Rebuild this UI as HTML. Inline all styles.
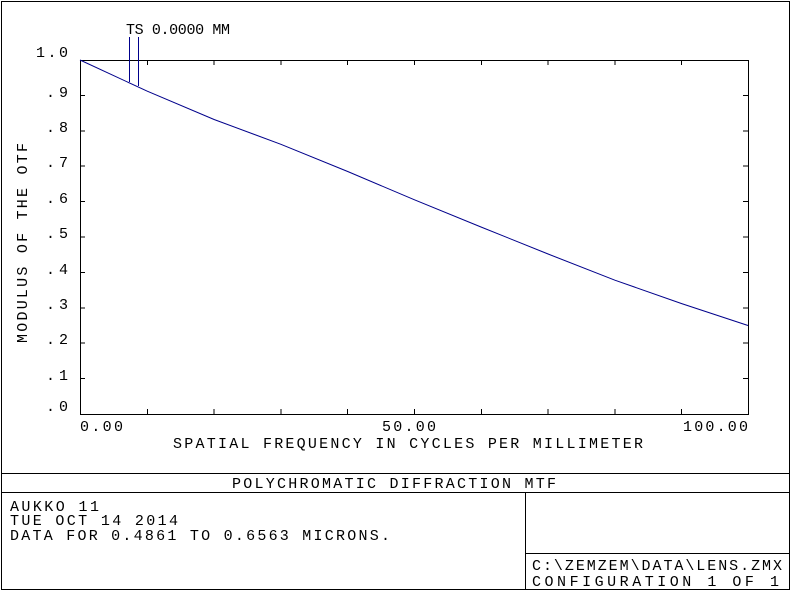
<!DOCTYPE html>
<html><head><style>body{margin:0;background:#fff}svg{display:block}text{font-family:"Liberation Mono",monospace;font-size:15px;fill:#000}</style></head><body>
<svg width="792" height="592" xmlns="http://www.w3.org/2000/svg">
<g stroke="#000" stroke-width="1" fill="none" shape-rendering="crispEdges">
<rect x="1.5" y="1.5" width="788" height="588"/>
<line x1="1" y1="473.5" x2="790" y2="473.5"/>
<line x1="1" y1="492.5" x2="790" y2="492.5"/>
<line x1="525.5" y1="492" x2="525.5" y2="590"/>
<line x1="525" y1="553.5" x2="790" y2="553.5"/>
<rect x="80.5" y="60.5" width="668" height="354"/>
<path d="M147.3 414v-5M214.1 414v-5M280.9 414v-5M347.7 414v-5M414.5 414v-5M481.3 414v-5M548.1 414v-5M614.9 414v-5M681.7 414v-5
M147.3 60v5M214.1 60v5M280.9 60v5M347.7 60v5M414.5 60v5M481.3 60v5M548.1 60v5M614.9 60v5M681.7 60v5
M80 95.4h5M80 130.8h5M80 166.2h5M80 201.6h5M80 237h5M80 272.4h5M80 307.8h5M80 343.2h5M80 378.6h5
M748 95.4h-5M748 130.8h-5M748 166.2h-5M748 201.6h-5M748 237h-5M748 272.4h-5M748 307.8h-5M748 343.2h-5M748 378.6h-5"/>
</g>
<g stroke="#00008b" stroke-width="1" fill="none">
<polyline points="80,60 147.3,91.2 214.1,119.5 280.9,144.3 347.7,171.5 414.5,199.8 481.3,227.1 548.1,254.0 614.9,280.2 681.7,303.6 748,325.5"/>
<line x1="129.5" y1="37" x2="129.5" y2="82"/>
<line x1="138.5" y1="37" x2="138.5" y2="86"/>
</g>
<text x="126" y="34" textLength="104" lengthAdjust="spacing">TS 0.0000 MM</text>
<text x="36" y="57" textLength="32" lengthAdjust="spacing">1.0</text>
<g>
<text x="46" y="97" textLength="22" lengthAdjust="spacing">.9</text><text x="46" y="132" textLength="22" lengthAdjust="spacing">.8</text><text x="46" y="167" textLength="22" lengthAdjust="spacing">.7</text><text x="46" y="203" textLength="22" lengthAdjust="spacing">.6</text><text x="46" y="238" textLength="22" lengthAdjust="spacing">.5</text><text x="46" y="274" textLength="22" lengthAdjust="spacing">.4</text><text x="46" y="309" textLength="22" lengthAdjust="spacing">.3</text><text x="46" y="344" textLength="22" lengthAdjust="spacing">.2</text><text x="46" y="380" textLength="22" lengthAdjust="spacing">.1</text><text x="46" y="411" textLength="22" lengthAdjust="spacing">.0</text>
</g>
<text x="80" y="431" textLength="43" lengthAdjust="spacing">0.00</text>
<text x="382" y="431" textLength="54" lengthAdjust="spacing">50.00</text>
<text x="683" y="431" textLength="65" lengthAdjust="spacing">100.00</text>
<text x="173" y="448" textLength="470" lengthAdjust="spacing">SPATIAL FREQUENCY IN CYCLES PER MILLIMETER</text>
<text transform="translate(27,343) rotate(-90)" textLength="200" lengthAdjust="spacing">MODULUS OF THE OTF</text>
<text x="232" y="488" textLength="324" lengthAdjust="spacing">POLYCHROMATIC DIFFRACTION MTF</text>
<text x="10" y="511" textLength="89" lengthAdjust="spacing">AUKKO 11</text>
<text x="10" y="525" textLength="168" lengthAdjust="spacing">TUE OCT 14 2014</text>
<text x="10" y="540" textLength="380" lengthAdjust="spacing">DATA FOR 0.4861 TO 0.6563 MICRONS.</text>
<text x="532" y="570" textLength="250" lengthAdjust="spacing">C:\ZEMZEM\DATA\LENS.ZMX</text>
<text x="532" y="586" textLength="247" lengthAdjust="spacing">CONFIGURATION 1 OF 1</text>
</svg>
</body></html>
